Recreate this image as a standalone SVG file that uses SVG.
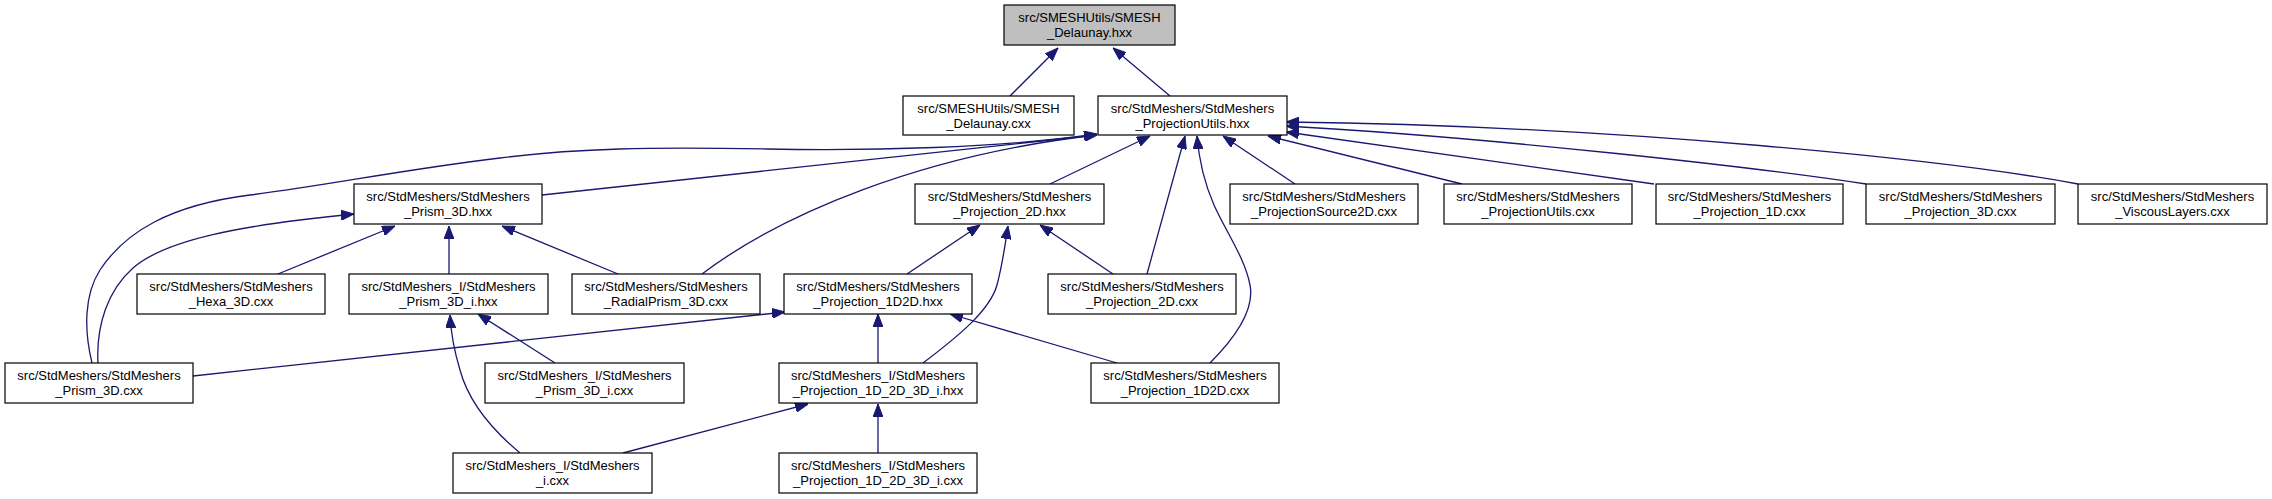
<svg xmlns="http://www.w3.org/2000/svg" width="2272" height="499" viewBox="0 0 2272 499">
<style>
.n rect{fill:#ffffff;stroke:#000000;stroke-width:1.2}
.n.g rect{fill:#bfbfbf}
.n text{font-family:"Liberation Sans",Arial,Helvetica,sans-serif;font-size:13px;fill:#000000;text-anchor:middle}
.e path{fill:none;stroke:#191970;stroke-width:1.3;marker-end:url(#ah)}
</style>
<defs>
<marker id="ah" viewBox="0 0 13 10" refX="13" refY="5" markerWidth="13" markerHeight="10" markerUnits="userSpaceOnUse" orient="auto">
<path d="M0,0 L13,5 L0,10 Z" fill="#191970" stroke="#191970" stroke-width="1"/>
</marker>
</defs>
<rect width="2272" height="499" fill="#ffffff"/>
<g id="edges" class="e">
<path d="M1010,96 L1058,48"/>
<path d="M1170,96 L1113,48"/>
<path d="M542,195 C750,173 950,152 1097,135"/>
<path d="M92,363 C84,330 84,295 100,270 C125,232 170,205 250,195 C330,185 400,170 500,158 C580,148 650,147 767,149 C870,151 1000,148 1097,134"/>
<path d="M98,363 C96,325 108,290 133,268 C165,240 240,225 354,214"/>
<path d="M702,274 C780,215 920,155 1097,135"/>
<path d="M1050,184 L1150,136"/>
<path d="M1147,274 L1185,136"/>
<path d="M1210,363 C1235,338 1255,310 1250,285 C1245,258 1225,230 1214,205 C1203,180 1199,160 1197,136"/>
<path d="M1295,184 L1223,136"/>
<path d="M1462,184 L1268,136"/>
<path d="M1654,184 L1286,132"/>
<path d="M1866,184 C1760,168 1500,138 1286,126"/>
<path d="M2078,184 C1950,160 1620,126 1286,122"/>
<path d="M278,274 L395,226"/>
<path d="M449,274 L449,226"/>
<path d="M618,274 L502,226"/>
<path d="M907,274 L980,225"/>
<path d="M1113,274 L1040,225"/>
<path d="M923,363 C960,335 990,310 997,285 C1003,262 1005,245 1008,226"/>
<path d="M193,376 L785,312"/>
<path d="M878,363 L878,314"/>
<path d="M1117,363 L950,314"/>
<path d="M555,363 L478,314"/>
<path d="M520,453 C490,428 468,400 460,370 C454,350 451,335 450,315"/>
<path d="M623,453 L808,404"/>
<path d="M878,453 L878,404"/>
</g>
<g id="n0" class="n g"><rect x="1004" y="5" width="171" height="40"/><text x="1089.5" y="22">src/SMESHUtils/SMESH</text><text x="1089.5" y="37">_Delaunay.hxx</text></g>
<g id="n1" class="n"><rect x="903" y="96" width="171" height="39"/><text x="988.5" y="113">src/SMESHUtils/SMESH</text><text x="988.5" y="128">_Delaunay.cxx</text></g>
<g id="n2" class="n"><rect x="1098" y="96" width="189" height="39"/><text x="1192.5" y="113">src/StdMeshers/StdMeshers</text><text x="1192.5" y="128">_ProjectionUtils.hxx</text></g>
<g id="n3" class="n"><rect x="354" y="184" width="188" height="40"/><text x="448" y="201">src/StdMeshers/StdMeshers</text><text x="448" y="216">_Prism_3D.hxx</text></g>
<g id="n4" class="n"><rect x="915" y="184" width="189" height="40"/><text x="1009.5" y="201">src/StdMeshers/StdMeshers</text><text x="1009.5" y="216">_Projection_2D.hxx</text></g>
<g id="n5" class="n"><rect x="1230" y="184" width="188" height="40"/><text x="1324" y="201">src/StdMeshers/StdMeshers</text><text x="1324" y="216">_ProjectionSource2D.cxx</text></g>
<g id="n6" class="n"><rect x="1444" y="184" width="188" height="40"/><text x="1538" y="201">src/StdMeshers/StdMeshers</text><text x="1538" y="216">_ProjectionUtils.cxx</text></g>
<g id="n7" class="n"><rect x="1656" y="184" width="187" height="40"/><text x="1749.5" y="201">src/StdMeshers/StdMeshers</text><text x="1749.5" y="216">_Projection_1D.cxx</text></g>
<g id="n8" class="n"><rect x="1866" y="184" width="189" height="40"/><text x="1960.5" y="201">src/StdMeshers/StdMeshers</text><text x="1960.5" y="216">_Projection_3D.cxx</text></g>
<g id="n9" class="n"><rect x="2078" y="184" width="189" height="40"/><text x="2172.5" y="201">src/StdMeshers/StdMeshers</text><text x="2172.5" y="216">_ViscousLayers.cxx</text></g>
<g id="n10" class="n"><rect x="137" y="274" width="188" height="40"/><text x="231" y="291">src/StdMeshers/StdMeshers</text><text x="231" y="306">_Hexa_3D.cxx</text></g>
<g id="n11" class="n"><rect x="349" y="274" width="199" height="40"/><text x="448.5" y="291">src/StdMeshers_I/StdMeshers</text><text x="448.5" y="306">_Prism_3D_i.hxx</text></g>
<g id="n12" class="n"><rect x="572" y="274" width="188" height="40"/><text x="666" y="291">src/StdMeshers/StdMeshers</text><text x="666" y="306">_RadialPrism_3D.cxx</text></g>
<g id="n13" class="n"><rect x="784" y="274" width="188" height="40"/><text x="878" y="291">src/StdMeshers/StdMeshers</text><text x="878" y="306">_Projection_1D2D.hxx</text></g>
<g id="n14" class="n"><rect x="1048" y="274" width="188" height="40"/><text x="1142" y="291">src/StdMeshers/StdMeshers</text><text x="1142" y="306">_Projection_2D.cxx</text></g>
<g id="n15" class="n"><rect x="5" y="363" width="188" height="40"/><text x="99" y="380">src/StdMeshers/StdMeshers</text><text x="99" y="395">_Prism_3D.cxx</text></g>
<g id="n16" class="n"><rect x="485" y="363" width="199" height="40"/><text x="584.5" y="380">src/StdMeshers_I/StdMeshers</text><text x="584.5" y="395">_Prism_3D_i.cxx</text></g>
<g id="n17" class="n"><rect x="779" y="363" width="198" height="40"/><text x="878" y="380">src/StdMeshers_I/StdMeshers</text><text x="878" y="395">_Projection_1D_2D_3D_i.hxx</text></g>
<g id="n18" class="n"><rect x="1091" y="363" width="188" height="40"/><text x="1185" y="380">src/StdMeshers/StdMeshers</text><text x="1185" y="395">_Projection_1D2D.cxx</text></g>
<g id="n19" class="n"><rect x="453" y="453" width="199" height="40"/><text x="552.5" y="470">src/StdMeshers_I/StdMeshers</text><text x="552.5" y="485">_i.cxx</text></g>
<g id="n20" class="n"><rect x="779" y="453" width="198" height="40"/><text x="878" y="470">src/StdMeshers_I/StdMeshers</text><text x="878" y="485">_Projection_1D_2D_3D_i.cxx</text></g>
</svg>
